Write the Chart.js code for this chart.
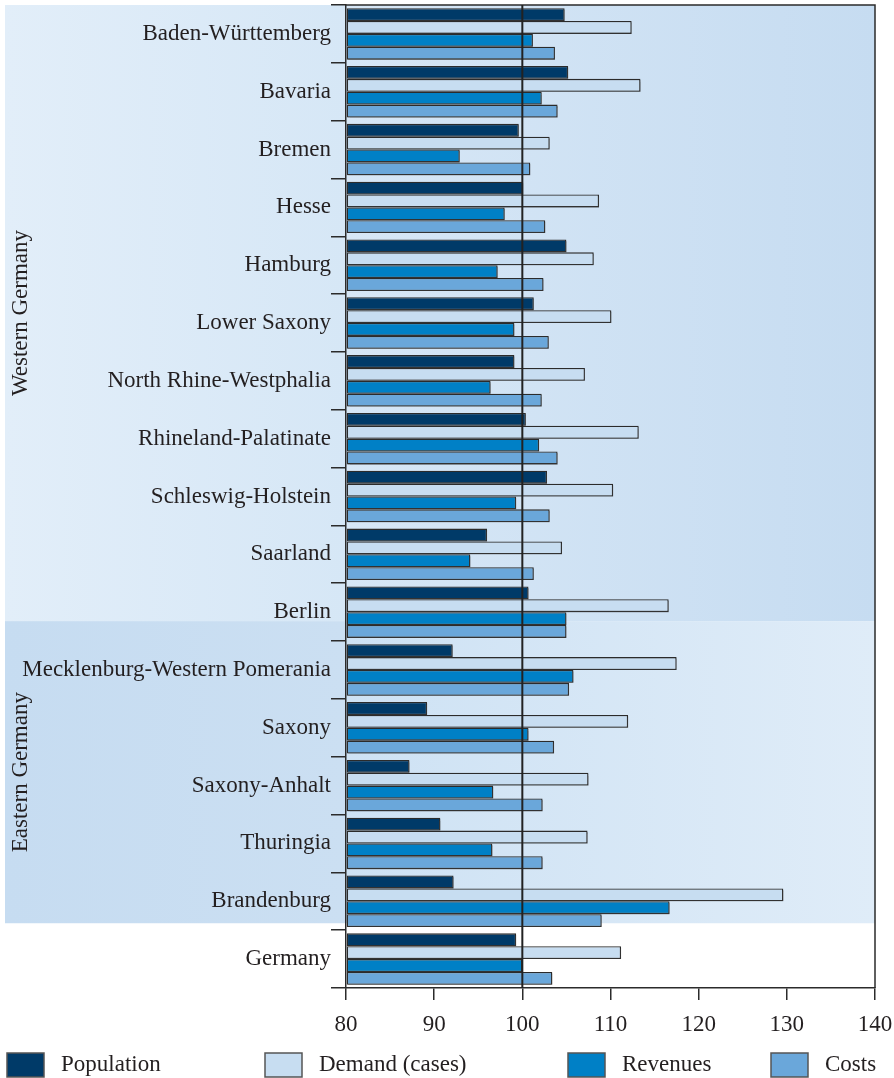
<!DOCTYPE html>
<html>
<head>
<meta charset="utf-8">
<script src="https://cdn.jsdelivr.net/npm/chart.js@4.4.0/dist/chart.umd.min.js"></script>
<style>
  html, body { margin: 0; padding: 0; background: #ffffff; }
  #wrap { position: relative; width: 894px; height: 1078px; }
</style>
</head>
<body>
<div id="wrap"><canvas id="c" width="894" height="1078"></canvas></div>
<script>
const categories = ['Baden-Württemberg','Bavaria','Bremen','Hesse','Hamburg','Lower Saxony','North Rhine-Westphalia','Rhineland-Palatinate','Schleswig-Holstein','Saarland','Berlin','Mecklenburg-Western Pomerania','Saxony','Saxony-Anhalt','Thuringia','Brandenburg','Germany'];
const seriesNames = ['Population','Demand (cases)','Revenues','Costs'];
const population = [104.8,105.2,99.6,100.1,105.0,101.3,99.1,100.4,102.8,96.0,100.7,92.1,89.2,87.2,90.7,92.2,99.3];
const demand     = [112.4,113.4,103.1,108.7,108.1,110.1,107.1,113.2,110.3,104.5,116.6,117.5,112.0,107.5,107.4,129.6,111.2];
const revenues   = [101.2,102.2,92.9,98.0,97.2,99.1,96.4,101.9,99.3,94.1,105.0,105.8,100.7,96.7,96.6,116.7,100.0];
const costs      = [103.7,104.0,100.9,102.6,102.4,103.0,102.2,104.0,103.1,101.3,105.0,105.3,103.6,102.3,102.3,109.0,103.4];
const xTickValues = [80,90,100,110,120,130,140];
const regionNames = ['Western Germany','Eastern Germany'];
const referenceValue = 100;

const colors = ['#003a68','#c7ddf1','#0080c6','#6aa7da'];
const FONT = '"Liberation Serif", "DejaVu Serif", serif';
const TXT = '#231f20';
const LINE = '#2b2b2b';

const decorPlugin = {
  id: 'decor',
  beforeDraw(chart) {
    const {ctx, chartArea: ca, scales: {x, y}} = chart;
    const row = y.getPixelForValue(1) - y.getPixelForValue(0);
    const top = ca.top;
    const b1 = y.getPixelForValue(categories.indexOf('Berlin')) + row * 0.155;
    const b2 = y.getPixelForValue(categories.indexOf('Brandenburg')) + row * 0.38;
    const L = 5;
    function grad(x0, x1, c0, c1) {
      const g = ctx.createLinearGradient(x0, 0, x1, 0);
      g.addColorStop(0, c0); g.addColorStop(1, c1); return g;
    }
    ctx.save();
    // Western
    ctx.fillStyle = grad(L, ca.left, '#e2eef9', '#d6e7f6');
    ctx.fillRect(L, top, ca.left - L, b1 - top);
    ctx.fillStyle = grad(ca.left, ca.right, '#d7e7f6', '#c6dcf1');
    ctx.fillRect(ca.left, top, ca.right - ca.left, b1 - top);
    // Eastern
    ctx.fillStyle = grad(L, ca.left, '#c6dcf1', '#cbdff2');
    ctx.fillRect(L, b1, ca.left - L, b2 - b1);
    ctx.fillStyle = grad(ca.left, ca.right, '#cee2f4', '#dfecf8');
    ctx.fillRect(ca.left, b1, ca.right - ca.left, b2 - b1);

    // region labels
    ctx.fillStyle = TXT;
    ctx.font = '23px ' + FONT;
    ctx.textAlign = 'center';
    ctx.textBaseline = 'middle';
    [[regionNames[0], top, b1], [regionNames[1], b1, b2]].forEach(([t, a, b]) => {
      ctx.save();
      ctx.translate(21, (a + b) / 2);
      ctx.rotate(-Math.PI / 2);
      ctx.fillText(t, 0, 0);
      ctx.restore();
    });
    ctx.restore();
  },
  beforeDatasetsDraw(chart) {
    const {ctx} = chart;
    ctx.save();
    ctx.shadowColor = 'rgba(60,60,60,0.45)';
    ctx.shadowOffsetX = 1.5;
    ctx.shadowOffsetY = 1.5;
    ctx.shadowBlur = 0.5;
  },
  afterDatasetsDraw(chart) {
    const {ctx, chartArea: ca, scales: {x}} = chart;
    ctx.restore();
    ctx.save();
    // frame top & right
    ctx.strokeStyle = LINE;
    ctx.lineWidth = 1.5;
    ctx.beginPath();
    ctx.moveTo(ca.left, ca.top); ctx.lineTo(ca.right, ca.top); ctx.lineTo(ca.right, ca.bottom);
    ctx.stroke();
    // reference line at 100
    const px = x.getPixelForValue(referenceValue);
    ctx.lineWidth = 2;
    ctx.strokeStyle = '#222';
    ctx.beginPath();
    ctx.moveTo(px, ca.top); ctx.lineTo(px, ca.bottom);
    ctx.stroke();
    ctx.restore();
  },
  afterDraw(chart) {
    const {ctx} = chart;
    const boxX = [7, 265, 568, 771];
    ctx.save();
    ctx.font = '23px ' + FONT;
    ctx.textBaseline = 'middle';
    ctx.textAlign = 'left';
    chart.data.datasets.forEach((ds, i) => {
      ctx.fillStyle = ds.backgroundColor;
      ctx.fillRect(boxX[i], 1053, 37, 24);
      ctx.strokeStyle = '#555';
      ctx.lineWidth = 1.5;
      ctx.strokeRect(boxX[i], 1053, 37, 24);
      ctx.fillStyle = TXT;
      ctx.fillText(ds.label, boxX[i] + 54, 1065);
    });
    ctx.restore();
  }
};

const datasets = [population, demand, revenues, costs].map((d, i) => ({
  label: seriesNames[i],
  data: d,
  base: 80,
  backgroundColor: colors[i],
  borderColor: LINE,
  borderWidth: 1.3,
  borderSkipped: false,
  categoryPercentage: 0.89,
  barPercentage: 1.0
}));

new Chart(document.getElementById('c'), {
  type: 'bar',
  data: { labels: categories, datasets },
  options: {
    indexAxis: 'y',
    responsive: false,
    animation: false,
    layout: { padding: { top: 5, right: 19, left: 0, bottom: 0 } },
    plugins: { legend: { display: false }, tooltip: { enabled: false } },
    scales: {
      x: {
        type: 'linear',
        min: 80, max: 140,
        afterBuildTicks(s) { s.ticks = xTickValues.map(v => ({value: v})); },
        afterFit(s) { s.height = 90; s.paddingLeft = 0; s.paddingRight = 0; },
        grid: { drawOnChartArea: false, drawTicks: true, tickLength: 12, color: LINE, lineWidth: 1.5 },
        border: { display: true, color: LINE, width: 1.5 },
        ticks: { color: TXT, font: { family: FONT, size: 23 }, padding: 11, maxRotation: 0 }
      },
      y: {
        afterFit(s) { s.width = 346; s.paddingTop = 0; s.paddingBottom = 0; },
        grid: { drawOnChartArea: false, drawTicks: true, tickLength: 15, color: LINE, lineWidth: 1.5, offset: true },
        border: { display: true, color: LINE, width: 1.5 },
        ticks: { color: TXT, font: { family: FONT, size: 23 }, padding: 0, autoSkip: false }
      }
    }
  },
  plugins: [decorPlugin]
});
</script>
</body>
</html>
